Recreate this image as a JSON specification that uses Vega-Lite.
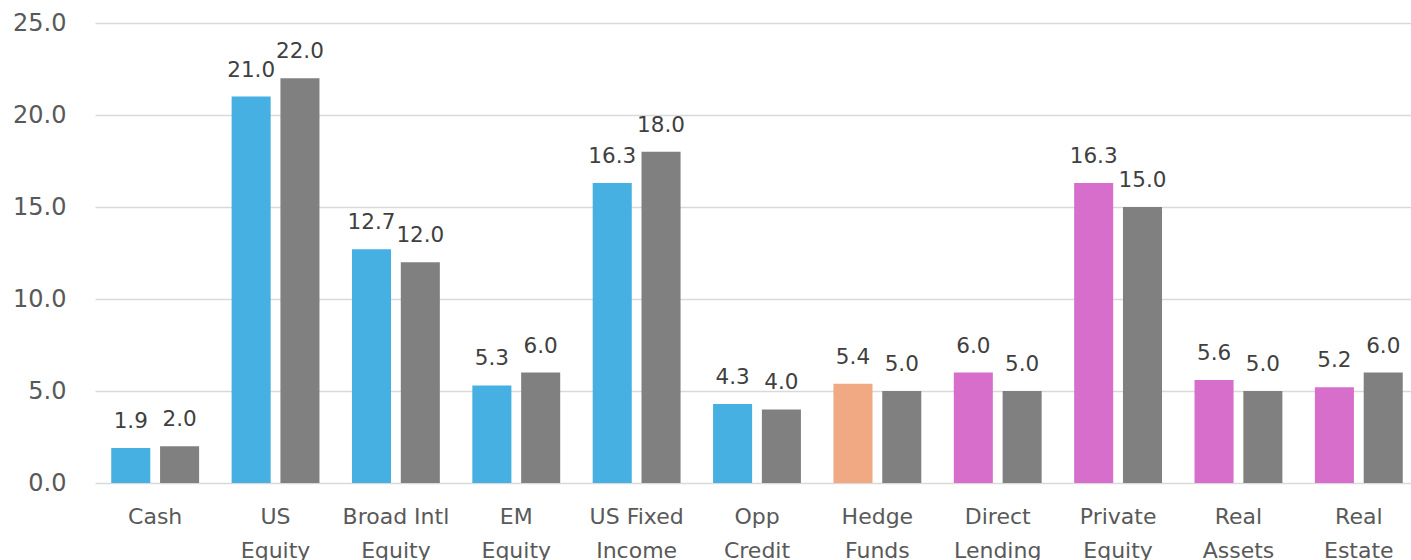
{
  "$schema": "https://vega.github.io/schema/vega-lite/v6.json",
  "autosize": {"type": "none"},
  "width": 1316,
  "height": 460,
  "padding": {"left": 95, "top": 23, "right": 0, "bottom": 77},
  "background": "white",
  "config": {
    "view": {"stroke": null},
    "font": "DejaVu Sans",
    "text": {"font": "DejaVu Sans"}
  },
  "data": {
    "values": [
      {"category": "Cash", "series": "Actual", "group": "Public", "value": 1.9},
      {"category": "Cash", "series": "Target", "group": "Target", "value": 2.0},
      {"category": "US Equity", "series": "Actual", "group": "Public", "value": 21.0},
      {"category": "US Equity", "series": "Target", "group": "Target", "value": 22.0},
      {"category": "Broad Intl Equity", "series": "Actual", "group": "Public", "value": 12.7},
      {"category": "Broad Intl Equity", "series": "Target", "group": "Target", "value": 12.0},
      {"category": "EM Equity", "series": "Actual", "group": "Public", "value": 5.3},
      {"category": "EM Equity", "series": "Target", "group": "Target", "value": 6.0},
      {"category": "US Fixed Income", "series": "Actual", "group": "Public", "value": 16.3},
      {"category": "US Fixed Income", "series": "Target", "group": "Target", "value": 18.0},
      {"category": "Opp Credit", "series": "Actual", "group": "Public", "value": 4.3},
      {"category": "Opp Credit", "series": "Target", "group": "Target", "value": 4.0},
      {"category": "Hedge Funds", "series": "Actual", "group": "Hedge", "value": 5.4},
      {"category": "Hedge Funds", "series": "Target", "group": "Target", "value": 5.0},
      {"category": "Direct Lending", "series": "Actual", "group": "Private", "value": 6.0},
      {"category": "Direct Lending", "series": "Target", "group": "Target", "value": 5.0},
      {"category": "Private Equity", "series": "Actual", "group": "Private", "value": 16.3},
      {"category": "Private Equity", "series": "Target", "group": "Target", "value": 15.0},
      {"category": "Real Assets", "series": "Actual", "group": "Private", "value": 5.6},
      {"category": "Real Assets", "series": "Target", "group": "Target", "value": 5.0},
      {"category": "Real Estate", "series": "Actual", "group": "Private", "value": 5.2},
      {"category": "Real Estate", "series": "Target", "group": "Target", "value": 6.0}
    ]
  },
  "encoding": {
    "x": {
      "field": "category",
      "type": "nominal",
      "sort": null,
      "scale": {"range": [0, 1324], "paddingInner": 0.27, "paddingOuter": 0.135},
      "axis": {
        "title": null,
        "domain": false,
        "ticks": false,
        "labelAngle": 0,
        "labelFont": "DejaVu Sans",
        "labelFontSize": 22,
        "labelColor": "#595959",
        "labelPadding": 23,
        "labelLineHeight": 34,
        "labelBaseline": "top",
        "labelExpr": "indexof(datum.label, ' ') > 0 ? [substring(datum.label, 0, lastindexof(datum.label, ' ')), substring(datum.label, lastindexof(datum.label, ' ') + 1)] : datum.label"
      }
    },
    "xOffset": {
      "field": "series",
      "type": "nominal",
      "sort": ["Actual", "Target"],
      "scale": {"paddingInner": 0.2, "paddingOuter": 0}
    },
    "y": {
      "field": "value",
      "type": "quantitative",
      "scale": {"domain": [0, 25], "nice": false},
      "axis": {
        "title": null,
        "values": [0, 5, 10, 15, 20, 25],
        "format": ".1f",
        "domain": false,
        "ticks": false,
        "labelFont": "DejaVu Sans",
        "labelFontSize": 24,
        "labelColor": "#595959",
        "labelPadding": 29,
        "gridColor": "#d9d9d9",
        "gridWidth": 1.5
      }
    }
  },
  "layer": [
    {
      "mark": {"type": "bar"},
      "encoding": {
        "color": {
          "field": "group",
          "type": "nominal",
          "scale": {
            "domain": ["Public", "Hedge", "Private", "Target"],
            "range": ["#45B0E1", "#F1A983", "#D86ECC", "#808080"]
          },
          "legend": null
        }
      }
    },
    {
      "mark": {"type": "text", "baseline": "alphabetic", "dy": -20, "fontSize": 21.5, "color": "#404040"},
      "encoding": {
        "text": {"field": "value", "type": "quantitative", "format": ".1f"}
      }
    }
  ]
}
